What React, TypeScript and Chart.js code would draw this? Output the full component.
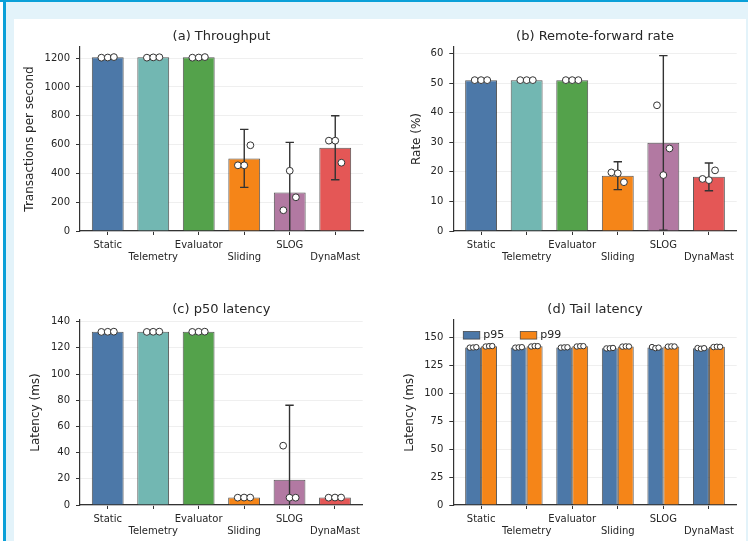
import React, { useEffect, useRef } from "react";
import { Chart, registerables } from "chart.js";

Chart.register(...registerables);

const categories = ["Static", "Telemetry", "Evaluator", "Sliding", "SLOG", "DynaMast"];
const barColors = ["#4c78a8", "#72b7b2", "#54a24b", "#f58518", "#b279a2", "#e45756"];
const runJitter = [-0.14, 0, 0.135];
const tailJitter = [-0.075, 0, 0.07];

const throughputTicks = [0, 200, 400, 600, 800, 1000, 1200];
const throughputMean = [1205, 1205, 1205, 504, 268, 578];
const throughputErr = [0, 0, 0, 201, 347, 222];
const throughputRuns = [
  [1203, 1204, 1207],
  [1203, 1205, 1206],
  [1203, 1204, 1207],
  [456, 456, 595],
  [144, 418, 234],
  [627, 627, 474],
];

const rateTicks = [0, 10, 20, 30, 40, 50, 60];
const rateMean = [51, 51, 51, 18.7, 29.8, 18.3];
const rateErr = [0, 0, 0, 4.7, 29.5, 4.7];
const rateRuns = [
  [51, 51, 51],
  [51, 51, 51],
  [51, 51, 51],
  [19.8, 19.5, 16.5],
  [42.5, 18.9, 27.9],
  [17.6, 17.2, 20.5],
];

const p50Ticks = [0, 20, 40, 60, 80, 100, 120, 140];
const p50Mean = [132.3, 132.3, 132.3, 5.8, 19.2, 5.8];
const p50Err = [0, 0, 0, 0, 57, 0];
const p50Runs = [
  [132.2, 132.3, 132.4],
  [132.2, 132.3, 132.4],
  [132.2, 132.3, 132.4],
  [5.6, 5.7, 5.7],
  [45.3, 5.6, 5.6],
  [5.6, 5.7, 5.7],
];

const tailTicks = [0, 25, 50, 75, 100, 125, 150];
const tailSeries = ["p95", "p99"];
const tailColors = ["#4c78a8", "#f58518"];
const p95Mean = [141, 141, 141, 140.3, 140.8, 140.2];
const p99Mean = [142, 142, 142, 141.8, 141.8, 141.5];
const p95Runs = [
  [140.8, 140.9, 141.2],
  [140.8, 141, 141.2],
  [140.8, 141, 141.1],
  [140.1, 140.2, 140.5],
  [141.3, 140.3, 140.8],
  [140.4, 139.8, 140.3],
];
const p99Runs = [
  [141.8, 142.1, 142.2],
  [141.8, 142.2, 142.1],
  [141.8, 142.1, 142.1],
  [141.7, 141.9, 141.8],
  [141.7, 141.9, 141.8],
  [141.3, 141.6, 141.5],
];

const FONT = "'DejaVu Sans', 'Liberation Sans', sans-serif";
const TEXT = "#262626";
const SPINE = "#333333";
const EDGE = "rgba(55,55,55,0.85)";

type Series = { label: string; colors: string | string[]; means: number[]; errs?: number[]; runs: number[][] };
type Spec = {
  title: string;
  yLabel: string;
  yMax: number;
  yTicks: number[];
  left: number;
  top: number;
  width: number;
  height: number;
  area: { l: number; r: number; t: number; b: number };
  yTitlePad: number;
  series: Series[];
  legend?: boolean;
};

const panels: Spec[] = [
  {
    title: "(a) Throughput",
    yLabel: "Transactions per second",
    yMax: 1277,
    yTicks: throughputTicks,
    left: 14, top: 19, width: 360, height: 251,
    area: { l: 66, r: 349, t: 28, b: 212 },
    yTitlePad: 9,
    series: [{ label: "throughput", colors: barColors, means: throughputMean, errs: throughputErr, runs: throughputRuns }],
  },
  {
    title: "(b) Remote-forward rate",
    yLabel: "Rate (%)",
    yMax: 62.2,
    yTicks: rateTicks,
    left: 374, top: 19, width: 372, height: 251,
    area: { l: 79.3, r: 362.7, t: 28, b: 212 },
    yTitlePad: 35.5,
    series: [{ label: "rate", colors: barColors, means: rateMean, errs: rateErr, runs: rateRuns }],
  },
  {
    title: "(c) p50 latency",
    yLabel: "Latency (ms)",
    yMax: 141.3,
    yTicks: p50Ticks,
    left: 14, top: 270, width: 360, height: 271,
    area: { l: 66, r: 348.7, t: 50, b: 235 },
    yTitlePad: 15,
    series: [{ label: "p50", colors: barColors, means: p50Mean, errs: p50Err, runs: p50Runs }],
  },
  {
    title: "(d) Tail latency",
    yLabel: "Latency (ms)",
    yMax: 165.5,
    yTicks: tailTicks,
    left: 374, top: 270, width: 372, height: 271,
    area: { l: 79.3, r: 362.7, t: 50, b: 235 },
    yTitlePad: 29,
    legend: true,
    series: [
      { label: tailSeries[0], colors: tailColors[0], means: p95Mean, runs: p95Runs },
      { label: tailSeries[1], colors: tailColors[1], means: p99Mean, runs: p99Runs },
    ],
  },
];

function buildConfig(spec: Spec): any {
  const grouped = spec.series.length > 1;
  const groupWidth = 0.7;
  const datasets: any[] = [];
  spec.series.forEach((s) => {
    datasets.push({
      type: "bar",
      label: s.label,
      data: s.means.map((m, i) => ({ x: i, y: m })),
      errors: s.errs,
      backgroundColor: s.colors,
      borderColor: EDGE,
      borderWidth: 1,
      categoryPercentage: groupWidth,
      barPercentage: 1,
      order: 1,
    });
  });
  spec.series.forEach((s, si) => {
    const shift = grouped ? (si - (spec.series.length - 1) / 2) * (groupWidth / spec.series.length) : 0;
    const jit = grouped ? tailJitter : runJitter;
    const pts: any[] = [];
    s.runs.forEach((runs, i) => runs.forEach((v, j) => pts.push({ x: i + shift + jit[j], y: v })));
    datasets.push({
      type: "scatter",
      label: s.label + " runs",
      data: pts,
      pointRadius: grouped ? 2.7 : 3.4,
      pointBackgroundColor: "#ffffff",
      pointBorderColor: "#333333",
      pointBorderWidth: 1,
      order: 0,
    });
  });

  const plugin = {
    id: "panelDecor",
    afterDatasetDraw(chart: any, args: any) {
      const ds = chart.data.datasets[args.index];
      if (!ds.errors) return;
      const y = chart.scales.y;
      const ctx = chart.ctx;
      const a = chart.chartArea;
      ctx.save();
      ctx.beginPath();
      ctx.rect(a.left, a.top - 2, a.right - a.left, a.bottom - a.top + 2);
      ctx.clip();
      ctx.strokeStyle = SPINE;
      ctx.lineWidth = 1.4;
      args.meta.data.forEach((el: any, i: number) => {
        const e = ds.errors[i];
        if (!e) return;
        const m = ds.data[i].y;
        const yt = y.getPixelForValue(m + e);
        const yb = y.getPixelForValue(m - e);
        const x = el.x;
        ctx.beginPath();
        ctx.moveTo(x, yt);
        ctx.lineTo(x, yb);
        ctx.moveTo(x - 4.2, yt);
        ctx.lineTo(x + 4.2, yt);
        ctx.moveTo(x - 4.2, yb);
        ctx.lineTo(x + 4.2, yb);
        ctx.stroke();
      });
      ctx.restore();
    },
    afterDraw(chart: any) {
      const ctx = chart.ctx;
      const a = chart.chartArea;
      ctx.save();
      ctx.fillStyle = TEXT;
      ctx.font = `13px ${FONT}`;
      ctx.textAlign = "center";
      ctx.textBaseline = "middle";
      ctx.fillText(spec.title, (a.left + a.right) / 2, a.top - 10.5);
      if (spec.legend) {
        ctx.font = `11px ${FONT}`;
        ctx.textAlign = "left";
        let x = a.left + 10;
        const yc = a.top + 15.3;
        spec.series.forEach((s) => {
          ctx.fillStyle = s.colors as string;
          ctx.fillRect(x, yc - 3.8, 16.5, 7.6);
          ctx.strokeStyle = EDGE;
          ctx.lineWidth = 0.8;
          ctx.strokeRect(x, yc - 3.8, 16.5, 7.6);
          ctx.fillStyle = TEXT;
          const tx = x + 16.5 + 3.5;
          ctx.fillText(s.label, tx, yc);
          x = tx + ctx.measureText(s.label).width + 16;
        });
      }
      ctx.restore();
    },
  };

  return {
    type: "bar",
    data: { datasets },
    options: {
      animation: false,
      responsive: false,
      devicePixelRatio: 1,
      events: [],
      layout: { padding: { left: 0, top: spec.area.t, right: spec.width - spec.area.r, bottom: 0 } },
      plugins: { legend: { display: false }, tooltip: { enabled: false }, title: { display: false } },
      scales: {
        x: {
          type: "linear",
          min: -0.61,
          max: 5.61,
          bounds: "data",
          offset: false,
          afterBuildTicks: (s: any) => {
            s.ticks = categories.map((_, i) => ({ value: i }));
          },
          afterFit: (s: any) => {
            s.height = spec.height - spec.area.b;
          },
          grid: { display: true, drawOnChartArea: false, offset: false, tickLength: 4, tickColor: SPINE, tickWidth: 1 },
          border: { display: true, color: SPINE, width: 1.2 },
          ticks: {
            autoSkip: false,
            maxRotation: 0,
            minRotation: 0,
            padding: 4,
            color: TEXT,
            font: { family: FONT, size: 10, lineHeight: 1.2 },
            callback: (_v: any, i: number) => (i % 2 ? ["", categories[i]] : [categories[i], ""]),
          },
        },
        y: {
          type: "linear",
          min: 0,
          max: spec.yMax,
          bounds: "data",
          afterBuildTicks: (s: any) => {
            s.ticks = spec.yTicks.map((v) => ({ value: v }));
          },
          afterFit: (s: any) => {
            s.width = spec.area.l;
          },
          grid: { color: "#ebebeb", lineWidth: 0.8, tickLength: 4, tickColor: SPINE, tickWidth: 1 },
          border: { display: true, color: SPINE, width: 1.2 },
          ticks: {
            padding: 6,
            color: TEXT,
            font: { family: FONT, size: 10 },
            callback: (v: any) => String(v),
          },
          title: {
            display: true,
            text: spec.yLabel,
            color: TEXT,
            font: { family: FONT, size: 12 },
            padding: { top: spec.yTitlePad, bottom: 0 },
          },
        },
      },
    },
    plugins: [plugin],
  };
}

function Panel({ spec }: { spec: Spec }) {
  const ref = useRef<HTMLCanvasElement>(null);
  useEffect(() => {
    const chart = new Chart(ref.current as HTMLCanvasElement, buildConfig(spec));
    return () => chart.destroy();
  }, [spec]);
  return (
    <canvas
      ref={ref}
      width={spec.width}
      height={spec.height}
      style={{ position: "absolute", left: spec.left, top: spec.top, width: spec.width, height: spec.height }}
    />
  );
}

export default function App() {
  return (
    <div style={{ position: "absolute", left: 0, top: 0, width: 748, height: 541, overflow: "hidden", background: "#ffffff" }}>
      <div style={{ position: "absolute", left: 3, top: 0, width: 745, height: 541, background: "#e3f3fa" }} />
      <div style={{ position: "absolute", left: 0, top: 0, width: 748, height: 2, background: "#0aa0d8" }} />
      <div style={{ position: "absolute", left: 3, top: 0, width: 3, height: 541, background: "#0aa0d8" }} />
      <div style={{ position: "absolute", left: 14, top: 19, width: 732, height: 522, background: "#ffffff" }} />
      {panels.map((p) => (
        <Panel key={p.title} spec={p} />
      ))}
    </div>
  );
}
